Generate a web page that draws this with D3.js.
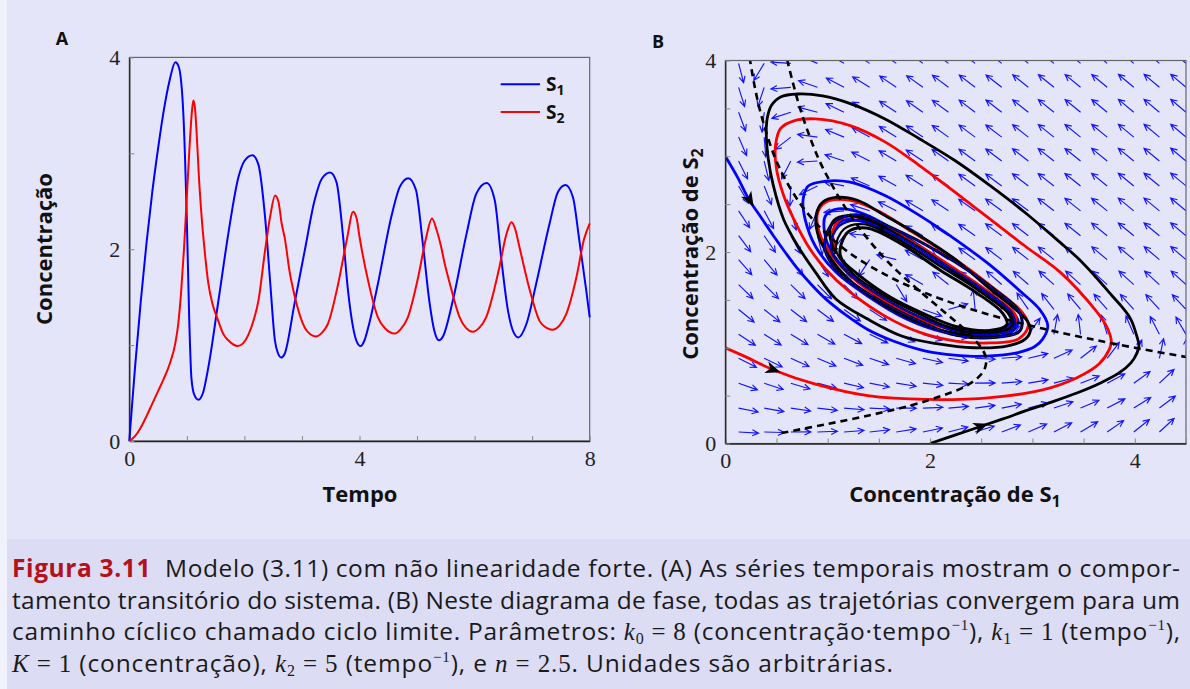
<!DOCTYPE html>
<html><head><meta charset="utf-8">
<script src="https://cdn.jsdelivr.net/npm/d3@7/dist/d3.min.js"></script>
<style>
html,body{margin:0;padding:0;background:#f2f2fc;}
svg{display:block;}
</style></head><body>
<svg id="fig" width="1190" height="689"></svg>
<script>
// ---------------- DATA ----------------
// Panel A: time series (Tempo, Concentração)
const timeTicksAll = [0,1,2,3,4,5,6,7,8];
const timeTickLabels = [0,4,8];
const concTicksAll = [0,1,2,3,4];
const concTickLabels = [0,2,4];
const seriesNames = ["S1","S2"];
const s1Series = [[0,0],[0.05,0.39],[0.1,0.77],[0.2,1.46],[0.3,2.07],[0.4,2.6],[0.5,3.05],[0.6,3.45],[0.7,3.76],[0.8,3.95],[0.86,3.9],[0.94,3.4],[1.0,2.3],[1.04,1.3],[1.08,0.65],[1.13,0.48],[1.2,0.43],[1.28,0.5],[1.374,0.77],[1.548,1.46],[1.72,2.16],[1.896,2.75],[2.0,2.92],[2.14,2.98],[2.24,2.89],[2.36,2.33],[2.45,1.64],[2.53,1.05],[2.58,0.92],[2.64,0.87],[2.7,0.91],[2.87,1.43],[3.05,1.99],[3.22,2.51],[3.35,2.74],[3.49,2.80],[3.6,2.70],[3.71,2.16],[3.80,1.57],[3.89,1.18],[3.95,1.04],[4.02,0.99],[4.08,1.04],[4.15,1.18],[4.32,1.64],[4.55,2.33],[4.7,2.65],[4.85,2.74],[4.98,2.62],[5.10,2.06],[5.22,1.43],[5.30,1.15],[5.38,1.05],[5.45,1.09],[5.62,1.46],[5.86,2.16],[6.03,2.58],[6.21,2.69],[6.35,2.51],[6.46,1.92],[6.58,1.36],[6.68,1.13],[6.76,1.08],[6.9,1.22],[7.07,1.64],[7.30,2.26],[7.45,2.6],[7.58,2.67],[7.71,2.54],[7.82,2.09],[7.94,1.57],[8.0,1.29]];
const s2Series = [[0,0],[0.1,0.05],[0.2,0.14],[0.3,0.26],[0.4,0.39],[0.5,0.52],[0.6,0.65],[0.7,0.80],[0.8,1.02],[0.85,1.22],[0.9,1.55],[0.95,2.0],[1.0,2.55],[1.05,3.1],[1.09,3.45],[1.113,3.55],[1.14,3.48],[1.171,3.2],[1.21,2.75],[1.258,2.33],[1.31,1.98],[1.374,1.64],[1.45,1.42],[1.548,1.25],[1.63,1.12],[1.72,1.05],[1.884,0.99],[1.98,1.02],[2.07,1.11],[2.16,1.26],[2.243,1.46],[2.36,1.99],[2.45,2.35],[2.533,2.56],[2.59,2.5],[2.65,2.26],[2.70,2.12],[2.79,1.75],[2.87,1.52],[3.05,1.18],[3.15,1.11],[3.24,1.09],[3.35,1.13],[3.45,1.22],[3.63,1.64],[3.78,2.1],[3.89,2.39],[3.95,2.32],[4.0,2.13],[4.15,1.67],[4.32,1.29],[4.45,1.17],[4.61,1.12],[4.72,1.17],[4.84,1.29],[5.02,1.71],[5.15,2.1],[5.26,2.32],[5.34,2.2],[5.42,2.02],[5.48,1.85],[5.57,1.64],[5.74,1.29],[5.85,1.18],[5.97,1.14],[6.08,1.18],[6.20,1.29],[6.43,1.81],[6.55,2.15],[6.64,2.28],[6.71,2.2],[6.78,2.02],[6.96,1.57],[7.13,1.25],[7.25,1.18],[7.35,1.16],[7.47,1.2],[7.59,1.32],[7.77,1.71],[7.9,2.1],[8.0,2.27]];

// Panel B: phase plane
const s1TicksAll = [0,0.5,1,1.5,2,2.5,3,3.5,4,4.5];
const s2TicksAll = [0,0.5,1,1.5,2,2.5,3,3.5,4];
const phaseTickLabels = [0,2,4];
// model parameters (from caption): k0, k1, K, k2, n
const modelParams = {k0:8, k1:1, K:1, k2:5, n:2.5};
// direction-field grid (S1 columns, S2 rows)
const fieldCols = [0.13,0.38,0.64,0.90,1.16,1.41,1.67,1.93,2.18,2.44,2.70,2.96,3.21,3.47,3.73,3.99,4.24,4.50];
const fieldRows = [0.12,0.37,0.63,0.89,1.14,1.40,1.66,1.92,2.17,2.43,2.69,2.95,3.20,3.46,3.72,3.97];
// nullclines (S1, S2)
const nullclineS1 = [[4.52,0.9],[4.0,1.0],[3.53,1.1],[3.10,1.2],[2.73,1.3],[2.41,1.4],[2.13,1.5],[1.89,1.6],[1.68,1.7],[1.50,1.8],[1.34,1.9],[1.20,2.0],[1.083,2.1],[0.98,2.2],[0.887,2.3],[0.735,2.5],[0.59,2.75],[0.48,3.0],[0.40,3.25],[0.334,3.5],[0.283,3.75],[0.242,4.0]];
const nullclineS2 = [[0.55,0.11],[0.98,0.2],[1.43,0.3],[1.82,0.4],[2.12,0.5],[2.35,0.6],[2.48,0.7],[2.54,0.8],[2.545,0.9],[2.5,1.0],[2.42,1.1],[2.33,1.2],[2.11,1.4],[1.89,1.6],[1.68,1.8],[1.50,2.0],[1.31,2.25],[1.15,2.5],[1.016,2.75],[0.90,3.0],[0.73,3.5],[0.606,4.0]];
// trajectories (S1, S2)
const blueTraj = [[0,3.0],[0.12,2.78],[0.23,2.55],[0.35,2.36],[0.47,2.17],[0.59,1.99],[0.71,1.82],[0.84,1.66],[0.98,1.51],[1.18,1.34],[1.39,1.19],[1.64,1.07],[1.90,0.98],[2.16,0.93],[2.42,0.91],[2.66,0.92],[2.86,0.95],[3.02,1.01],[3.10,1.09],[3.15,1.23],[3.07,1.40],[2.86,1.61],[2.59,1.86],[2.25,2.13],[1.90,2.38],[1.56,2.59],[1.22,2.73],[0.98,2.74],[0.81,2.69],[0.76,2.55],[0.78,2.34],[0.88,2.06],[1.08,1.79],[1.39,1.54],[1.77,1.30],[2.14,1.16],[2.52,1.11],[2.79,1.16],[2.86,1.28],[2.75,1.42],[2.5,1.62],[2.1,1.92],[1.7,2.2],[1.35,2.4],[1.1,2.45],[0.98,2.38],[0.97,2.2],[1.05,1.98],[1.3,1.7],[1.7,1.42],[2.1,1.24],[2.5,1.17],[2.75,1.22],[2.8,1.33],[2.6,1.52],[2.2,1.8],[1.75,2.1],[1.4,2.3],[1.15,2.33],[1.05,2.2],[1.08,2.02]];
const redTraj = [[0,1.0],[0.19,0.91],[0.49,0.76],[0.88,0.62],[1.39,0.50],[1.97,0.46],[2.59,0.48],[3.10,0.56],[3.44,0.69],[3.65,0.83],[3.75,0.98],[3.77,1.07],[3.72,1.23],[3.61,1.40],[3.27,1.79],[2.93,2.06],[2.59,2.34],[2.25,2.62],[1.90,2.90],[1.56,3.15],[1.22,3.32],[0.88,3.39],[0.67,3.37],[0.54,3.29],[0.49,3.11],[0.50,2.87],[0.57,2.59],[0.67,2.34],[0.81,2.06],[0.98,1.82],[1.22,1.58],[1.56,1.33],[1.90,1.16],[2.25,1.07],[2.59,1.05],[2.86,1.09],[2.96,1.23],[2.90,1.37],[2.59,1.65],[2.25,1.92],[1.84,2.20],[1.49,2.43],[1.22,2.54],[0.98,2.52],[0.90,2.40],[0.92,2.2],[1.03,1.98],[1.3,1.68],[1.7,1.40],[2.1,1.22],[2.5,1.15],[2.78,1.2],[2.84,1.32],[2.65,1.52],[2.25,1.82],[1.8,2.12],[1.42,2.33],[1.15,2.36],[1.05,2.22],[1.08,2.03]];
const blackTraj = [[2.0,0],[2.25,0.09],[2.5,0.18],[2.72,0.26],[2.93,0.34],[3.18,0.43],[3.44,0.53],[3.66,0.63],[3.85,0.74],[3.96,0.84],[4.02,0.94],[4.04,1.02],[4.02,1.12],[3.96,1.30],[3.88,1.42],[3.78,1.54],[3.61,1.75],[3.45,1.93],[3.27,2.10],[2.93,2.41],[2.59,2.69],[2.25,2.95],[1.90,3.18],[1.56,3.39],[1.22,3.55],[0.95,3.63],[0.71,3.65],[0.54,3.62],[0.45,3.53],[0.41,3.40],[0.40,3.25],[0.42,2.97],[0.47,2.69],[0.57,2.34],[0.71,2.06],[0.88,1.79],[1.08,1.51],[1.39,1.30],[1.73,1.12],[2.08,1.04],[2.42,1.0],[2.76,1.02],[2.93,1.09],[2.98,1.18],[2.95,1.28],[2.79,1.44],[2.59,1.61],[2.25,1.92],[1.90,2.17],[1.56,2.38],[1.29,2.54],[1.08,2.57],[0.95,2.52],[0.89,2.40],[0.90,2.2],[1.0,1.98],[1.2,1.72],[1.5,1.48],[1.85,1.28],[2.2,1.16],[2.5,1.13],[2.72,1.17],[2.82,1.27],[2.75,1.38],[2.5,1.58],[2.1,1.9],[1.7,2.17],[1.4,2.33],[1.2,2.38],[1.06,2.33],[1.02,2.18],[1.08,1.98]];
// limit-cycle band (closed loops)
const cycleOuter = [[0.97,2.05],[1.05,2.30],[1.28,2.39],[1.61,2.26],[2.10,1.99],[2.59,1.64],[2.88,1.36],[2.88,1.18],[2.65,1.11],[2.26,1.13],[1.87,1.29],[1.45,1.53],[1.09,1.81]];
const cycleMid1 = [[1.03,2.04],[1.11,2.27],[1.32,2.33],[1.66,2.18],[2.10,1.90],[2.53,1.60],[2.80,1.36],[2.82,1.21],[2.62,1.14],[2.26,1.17],[1.90,1.32],[1.53,1.53],[1.18,1.80]];
const cycleMid2 = [[1.08,2.03],[1.16,2.24],[1.35,2.29],[1.69,2.13],[2.10,1.85],[2.50,1.58],[2.76,1.36],[2.79,1.22],[2.60,1.16],[2.26,1.19],[1.92,1.34],[1.57,1.53],[1.23,1.79]];
const cycleInner = [[1.12,2.02],[1.20,2.21],[1.38,2.25],[1.71,2.09],[2.10,1.81],[2.46,1.57],[2.71,1.36],[2.75,1.24],[2.58,1.18],[2.26,1.22],[1.93,1.36],[1.61,1.53],[1.28,1.78],[1.14,1.92]];
// direction markers on trajectories: [S1, S2, dS1, dS2]
const bigArrows = [[0.24,2.54,0.23,-0.42],[0.47,0.77,1,-0.38],[2.5,0.18,1,0.37]];
const smallArrows = [[1.52,2.25,-1,0.25],[2.32,1.16,1,-0.02]];

// ---------------- DRAWING ----------------
const svg = d3.select("#fig");
const W = 1190, H = 689;
svg.append("rect").attr("x",0).attr("y",0).attr("width",W).attr("height",H).attr("fill","#f1f1fc");
svg.append("rect").attr("x",7).attr("y",0).attr("width",W-7).attr("height",539).attr("fill","#e5e5fa");
svg.append("rect").attr("x",7).attr("y",539).attr("width",W-7).attr("height",H-539).attr("fill","#dcdcf5");

const tickFont = '"Liberation Serif", "Times New Roman", serif';
const labelFont = '"Open Sans", "DejaVu Sans", sans-serif';

function styleAxis(g) {
  g.attr("font-family", tickFont).attr("font-size", 22).attr("fill", "#222");
  g.select(".domain").attr("stroke", "#222").attr("stroke-width", 1.3);
  g.selectAll(".tick line").attr("stroke", "#888").attr("stroke-width", 1);
  g.selectAll(".tick text").attr("fill", "#222");
}

// ---------- Panel A ----------
const xA = d3.scaleLinear().domain([0,8]).range([129.3,589.7]);
const yA = d3.scaleLinear().domain([0,4]).range([441,57.4]);
const gA = svg.append("g");
gA.append("rect").attr("x",xA(0)).attr("y",yA(4)).attr("width",xA(8)-xA(0)).attr("height",yA(0)-yA(4))
  .attr("fill","none").attr("stroke","#666").attr("stroke-width",1.2);
const axAx = gA.append("g").attr("transform",`translate(0,${yA(0)})`)
  .call(d3.axisBottom(xA).tickValues(timeTicksAll).tickSizeInner(-5).tickSizeOuter(0).tickPadding(9)
    .tickFormat(d => timeTickLabels.includes(d) ? d : ""));
styleAxis(axAx);
const axAy = gA.append("g").attr("transform",`translate(${xA(0)},0)`)
  .call(d3.axisLeft(yA).tickValues(concTicksAll).tickSizeInner(-5).tickSizeOuter(0).tickPadding(9)
    .tickFormat(d => concTickLabels.includes(d) ? d : ""));
styleAxis(axAy);

const lineA = d3.line().x(d => xA(d[0])).y(d => yA(d[1])).curve(d3.curveMonotoneX);
const seriesColors = {S1:"#0000ff", S2:"#ff0000"};
gA.append("path").datum(s1Series).attr("d",lineA).attr("fill","none").attr("stroke",seriesColors.S1).attr("stroke-width",2);
gA.append("path").datum(s2Series).attr("d",lineA).attr("fill","none").attr("stroke",seriesColors.S2).attr("stroke-width",2);

// legend
const leg = gA.append("g");
seriesNames.forEach((nm,i) => {
  const yy = 84.3 + i*27.7;
  leg.append("line").attr("x1",500.7).attr("x2",540).attr("y1",yy).attr("y2",yy)
    .attr("stroke",seriesColors[nm]).attr("stroke-width",2);
  const t = leg.append("text").attr("x",546).attr("y",yy+6.5).attr("font-family",labelFont)
    .attr("font-weight",700).attr("font-size",19).attr("fill","#111");
  t.append("tspan").text("S");
  t.append("tspan").attr("font-size",14).attr("dy",4).text(String(i+1));
});

// axis titles A
gA.append("text").attr("x",360).attr("y",501.5).attr("text-anchor","middle").attr("font-family",labelFont)
  .attr("font-weight",700).attr("font-size",22).attr("fill","#111").text("Tempo");
gA.append("text").attr("transform","translate(52,249) rotate(-90)").attr("text-anchor","middle")
  .attr("font-family",labelFont).attr("font-weight",700).attr("font-size",22).attr("fill","#111").text("Concentração");
svg.append("text").attr("x",62).attr("y",45).attr("text-anchor","middle").attr("font-family",labelFont)
  .attr("font-weight",700).attr("font-size",18).attr("fill","#111").text("A");

// ---------- Panel B ----------
const xB = d3.scaleLinear().domain([0,4.5]).range([725.3,1186]);
const yB = d3.scaleLinear().domain([0,4]).range([443.5,60.5]);
const gB = svg.append("g");
svg.append("defs").append("clipPath").attr("id","clipB").append("rect")
  .attr("x",xB(0)).attr("y",yB(4)).attr("width",xB(4.5)-xB(0)).attr("height",yB(0)-yB(4));
const plotB = gB.append("g").attr("clip-path","url(#clipB)");

// direction field of the model with the caption's parameters
const {k0,k1,K,k2,n} = modelParams;
const arrowLen = 20, headLen = 7, headAng = 0.45;
const fieldG = plotB.append("g").attr("stroke","#1414ff").attr("stroke-width",1.15).attr("fill","none");
fieldRows.forEach(s2 => fieldCols.forEach(s1 => {
  const r = k1*s1*(1+Math.pow(s2/K,n));
  const u = k0 - r, v = r - k2*s2;
  let dx = u*(xB(1)-xB(0)), dy = v*(yB(1)-yB(0));
  const m = Math.hypot(dx,dy) || 1; dx/=m; dy/=m;
  const x0 = xB(s1), y0 = yB(s2), x1 = x0+arrowLen*dx, y1 = y0+arrowLen*dy;
  const a = Math.atan2(dy,dx);
  const hx1 = x1 - headLen*Math.cos(a-headAng), hy1 = y1 - headLen*Math.sin(a-headAng);
  const hx2 = x1 - headLen*Math.cos(a+headAng), hy2 = y1 - headLen*Math.sin(a+headAng);
  fieldG.append("path").attr("d",`M${x0},${y0}L${x1},${y1}M${hx1},${hy1}L${x1},${y1}L${hx2},${hy2}`);
}));

const lineB = d3.line().x(d => xB(d[0])).y(d => yB(d[1])).curve(d3.curveCatmullRom.alpha(0.5));
const loopB = d3.line().x(d => xB(d[0])).y(d => yB(d[1])).curve(d3.curveCatmullRomClosed.alpha(0.5));

plotB.append("path").datum(blueTraj).attr("d",lineB).attr("fill","none").attr("stroke","#0000ff").attr("stroke-width",2.8);
plotB.append("path").datum(redTraj).attr("d",lineB).attr("fill","none").attr("stroke","#ff0000").attr("stroke-width",2.8);
plotB.append("path").datum(blackTraj).attr("d",lineB).attr("fill","none").attr("stroke","#000").attr("stroke-width",2.8);
[[cycleOuter,3],[cycleMid1,2.2],[cycleMid2,2.2],[cycleInner,3]].forEach(([lp,w]) => {
  plotB.append("path").datum(lp).attr("d",loopB).attr("fill","none").attr("stroke","#000").attr("stroke-width",w);
});
plotB.append("path").datum(cycleMid1).attr("d",loopB).attr("fill","none").attr("stroke","#0000ff").attr("stroke-width",1.2);
plotB.append("path").datum(cycleOuter).attr("d",loopB).attr("fill","none").attr("stroke","#0000ff").attr("stroke-width",1);

// nullclines
[nullclineS1, nullclineS2].forEach(nc => {
  plotB.append("path").datum(nc).attr("d",lineB).attr("fill","none").attr("stroke","#000")
    .attr("stroke-width",2.6).attr("stroke-dasharray","7,5");
});

// arrowheads on trajectories
function arrowHead(d, len, half, notch) {
  const sx = xB(d[0]), sy = yB(d[1]);
  const ang = Math.atan2(-d[3]*(yB(0)-yB(1)), d[2]*(xB(1)-xB(0))) * 180/Math.PI;
  plotB.append("path")
    .attr("d",`M${len/2},0L${-len/2},${-half}L${-len/2+notch},0L${-len/2},${half}Z`)
    .attr("transform",`translate(${sx},${sy}) rotate(${ang})`).attr("fill","#000");
}
bigArrows.forEach(d => arrowHead(d, 15, 6, 4));
smallArrows.forEach(d => arrowHead(d, 9, 3.5, 2));

// frame and axes B
gB.append("rect").attr("x",xB(0)).attr("y",yB(4)).attr("width",xB(4.5)-xB(0)).attr("height",yB(0)-yB(4))
  .attr("fill","none").attr("stroke","#666").attr("stroke-width",1.2);
const axBx = gB.append("g").attr("transform",`translate(0,${yB(0)})`)
  .call(d3.axisBottom(xB).tickValues(s1TicksAll).tickSizeInner(-5).tickSizeOuter(0).tickPadding(9)
    .tickFormat(d => phaseTickLabels.includes(d) ? d : ""));
styleAxis(axBx);
const axBy = gB.append("g").attr("transform",`translate(${xB(0)},0)`)
  .call(d3.axisLeft(yB).tickValues(s2TicksAll).tickSizeInner(-5).tickSizeOuter(0).tickPadding(9)
    .tickFormat(d => phaseTickLabels.includes(d) ? d : ""));
styleAxis(axBy);

const tx = gB.append("text").attr("x",955).attr("y",501.5).attr("text-anchor","middle").attr("font-family",labelFont)
  .attr("font-weight",700).attr("font-size",22).attr("fill","#111");
tx.append("tspan").text("Concentração de S");
tx.append("tspan").attr("font-size",16).attr("dy",5).text("1");
const ty = gB.append("text").attr("transform","translate(698,254) rotate(-90)").attr("text-anchor","middle")
  .attr("font-family",labelFont).attr("font-weight",700).attr("font-size",22).attr("fill","#111");
ty.append("tspan").text("Concentração de S");
ty.append("tspan").attr("font-size",16).attr("dy",5).text("2");
svg.append("text").attr("x",658).attr("y",48).attr("text-anchor","middle").attr("font-family",labelFont)
  .attr("font-weight",700).attr("font-size",18).attr("fill","#111").text("B");

// ---------- Caption ----------
const captionLines = [
  [{t:"Figura 3.11", s:"fig"}, {t:"  Modelo (3.11) com não linearidade forte. (A) As séries temporais mostram o compor-"}],
  [{t:"tamento transitório do sistema. (B) Neste diagrama de fase, todas as trajetórias convergem para um"}],
  [{t:"caminho cíclico chamado ciclo limite. Parâmetros: "},{t:"k",s:"mi"},{t:"0",s:"sub"},{t:" = 8",s:"mr"},{t:" (concentração·tempo"},{t:"−1",s:"sup"},{t:"), "},{t:"k",s:"mi"},{t:"1",s:"sub"},{t:" = 1",s:"mr"},{t:" (tempo"},{t:"−1",s:"sup"},{t:"),"}],
  [{t:"K",s:"mi"},{t:" = 1",s:"mr"},{t:" (concentração), "},{t:"k",s:"mi"},{t:"2",s:"sub"},{t:" = 5",s:"mr"},{t:" (tempo"},{t:"−1",s:"sup"},{t:"), e "},{t:"n",s:"mi"},{t:" = 2.5",s:"mr"},{t:". Unidades são arbitrárias."}]
];
const lineWidths = [1168,1168,1168,881];
const capG = svg.append("g").attr("font-family",labelFont).attr("font-size",24.5).attr("fill","#1a1a1a");
captionLines.forEach((runs,i) => {
  const t = capG.append("text").attr("x",12).attr("y",577 + i*31.7).style("white-space","pre")
    .attr("textLength",lineWidths[i]).attr("lengthAdjust","spacing");
  let shift = 0;
  runs.forEach(r => {
    const sp = t.append("tspan").text(r.t);
    let want = 0;
    if (r.s === "fig") sp.attr("font-weight",700).attr("fill","#b3111b");
    if (r.s === "mi") sp.attr("font-family",tickFont).attr("font-style","italic").attr("font-size",25);
    if (r.s === "mr") sp.attr("font-family",tickFont).attr("font-size",25);
    if (r.s === "sub") { sp.attr("font-family",tickFont).attr("font-size",16); want = 4; }
    if (r.s === "sup") { sp.attr("font-family",tickFont).attr("font-size",15); want = -10; }
    if (want !== shift) { sp.attr("dy", want - shift); shift = want; }
  });
});
</script>
</body></html>
